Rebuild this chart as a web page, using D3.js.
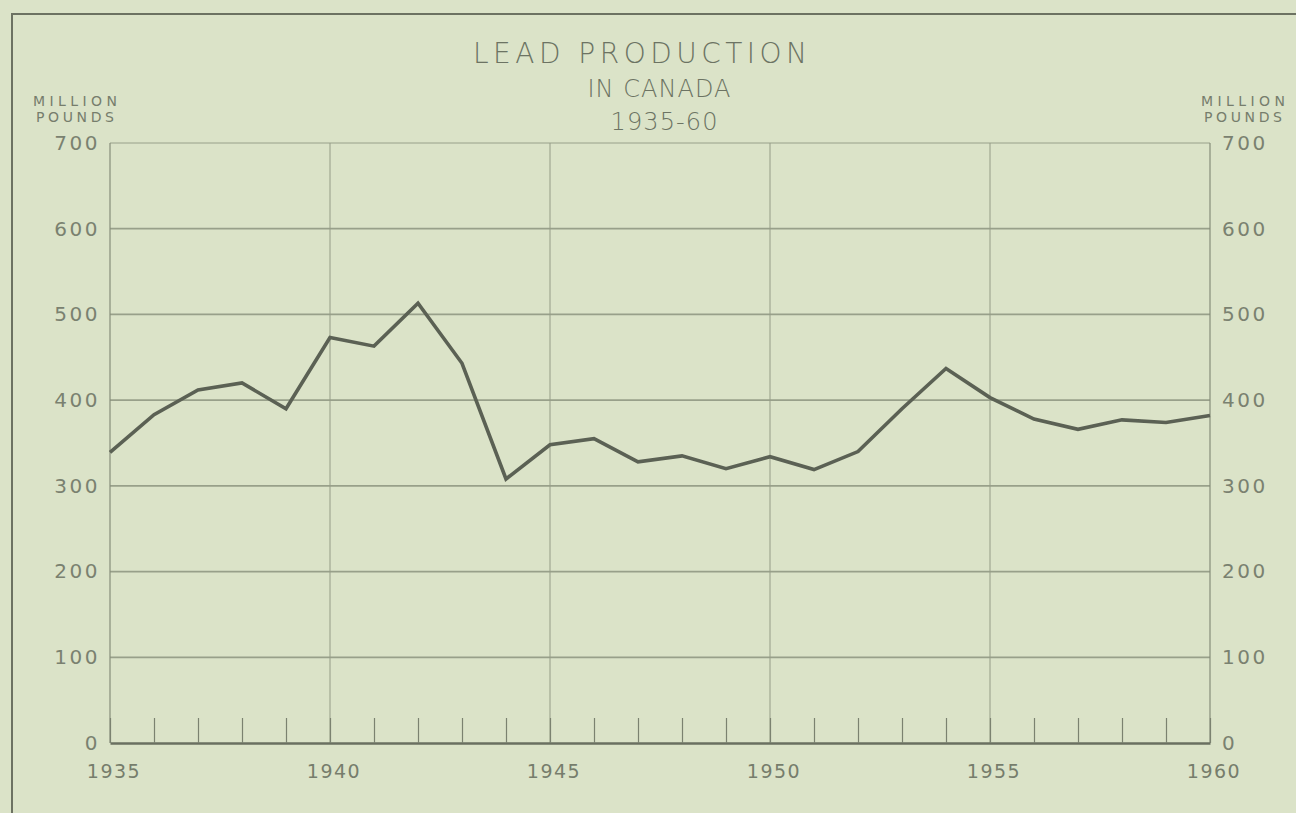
<!DOCTYPE html>
<html>
<head>
<meta charset="utf-8">
<script src="https://cdn.jsdelivr.net/npm/d3@7"></script>
<style>
  html, body { margin: 0; padding: 0; background: #dbe3c8; }
  svg { display: block; }
  text { fill: #767d6c; font-family: "DejaVu Sans", sans-serif; }
</style>
</head>
<body>
<div id="chart"></div>
<script>
// data (million pounds)
const years = d3.range(1935, 1961);
const production = [339, 383, 412, 420, 390, 473, 463, 513, 443, 308,
                    348, 355, 328, 335, 320, 334, 319, 340, 390, 437,
                    403, 378, 366, 377, 374, 382];
const yTicks = [0, 100, 200, 300, 400, 500, 600, 700];
const xLabels = [1935, 1940, 1945, 1950, 1955, 1960];
const titleLines = ["LEAD PRODUCTION", "IN CANADA", "1935-60"];
const unitLines = ["MILLION", "POUNDS"];

const svgWidth = 1296, svgHeight = 813;
const margin = {top: 143, right: 86, bottom: 70, left: 110};
const width = svgWidth - margin.left - margin.right;
const height = svgHeight - margin.top - margin.bottom;

const svg = d3.select("#chart").append("svg")
  .attr("width", svgWidth)
  .attr("height", svgHeight);

// outer frame (top and left edges visible)
svg.append("path")
  .attr("d", "M12,813 L12,14 L1296,14")
  .attr("fill", "none")
  .attr("stroke", "#6c7262")
  .attr("stroke-width", 2);

const chartGroup = svg.append("g")
  .attr("transform", `translate(${margin.left}, ${margin.top})`);

const x = d3.scaleLinear().domain([1935, 1960]).range([0, width]);
const y = d3.scaleLinear().domain([0, 700]).range([height, 0]);

// horizontal grid lines
chartGroup.append("g")
  .selectAll("line")
  .data(yTicks.filter(d => d > 0))
  .join("line")
  .attr("x1", 0).attr("x2", width)
  .attr("y1", d => y(d)).attr("y2", d => y(d))
  .attr("stroke", "#98a08a")
  .attr("stroke-width", d => d === 700 ? 1 : 1.8);

// vertical 5-year grid lines
chartGroup.append("g")
  .selectAll("line")
  .data(xLabels.slice(1, -1))
  .join("line")
  .attr("x1", d => x(d)).attr("x2", d => x(d))
  .attr("y1", 0).attr("y2", height)
  .attr("stroke", "#959c87")
  .attr("stroke-width", 1);

// side axes
[0, width].forEach(px => {
  chartGroup.append("line")
    .attr("x1", px).attr("x2", px)
    .attr("y1", 0).attr("y2", height)
    .attr("stroke", "#868d7a")
    .attr("stroke-width", 1.2);
});

// bottom axis with yearly ticks
const bottomAxis = d3.axisBottom(x)
  .tickValues(years)
  .tickSize(-25)
  .tickSizeOuter(0)
  .tickFormat("");
const xAxis = chartGroup.append("g")
  .attr("transform", `translate(0, ${height})`)
  .call(bottomAxis);
xAxis.select(".domain").attr("stroke", "#6a7061").attr("stroke-width", 2.5);
xAxis.selectAll(".tick line").attr("stroke", "#7b8270").attr("stroke-width", 1.2);

// year labels
chartGroup.append("g")
  .selectAll("text")
  .data(xLabels)
  .join("text")
  .attr("x", d => x(d) + 4)
  .attr("y", height + 35)
  .attr("text-anchor", "middle")
  .style("font-size", "19px")
  .style("letter-spacing", "1.5px")
  .text(d => d);

// left and right value labels
const leftAxis = d3.axisLeft(y).tickValues(yTicks).tickSize(0).tickPadding(10);
const rightAxis = d3.axisRight(y).tickValues(yTicks).tickSize(0).tickPadding(12);
[chartGroup.append("g").call(leftAxis),
 chartGroup.append("g").attr("transform", `translate(${width}, 0)`).call(rightAxis)]
  .forEach(g => {
    g.select(".domain").remove();
    g.selectAll(".tick text")
      .style("font-size", "20px")
      .style("letter-spacing", "2.5px")
      .style("fill", "#7a8170")
      .style("font-family", "DejaVu Sans, sans-serif");
  });

// the production line
const line = d3.line()
  .x((d, i) => x(years[i]))
  .y(d => y(d));

chartGroup.append("path")
  .datum(production)
  .attr("d", line)
  .attr("fill", "none")
  .attr("stroke", "#5b6154")
  .attr("stroke-width", 3.6)
  .attr("stroke-linejoin", "miter");

// titles
const titleSpecs = [
  {x: 640, y: 63, size: 28, len: 334},
  {x: 659, y: 97, size: 24, len: 143},
  {x: 664, y: 130, size: 24, len: 107}
];
titleLines.forEach((t, i) => {
  svg.append("text")
    .attr("x", titleSpecs[i].x)
    .attr("y", titleSpecs[i].y)
    .attr("text-anchor", "middle")
    .attr("textLength", titleSpecs[i].len)
    .attr("lengthAdjust", "spacing")
    .style("font-family", "DejaVu Sans, sans-serif")
    .style("font-weight", 200)
    .style("font-size", titleSpecs[i].size + "px")
    .style("fill", "#6c7363")
    .text(t);
});

// unit labels on both sides
const unitWidths = [84, 78];
[75, 1243].forEach(cx => {
  unitLines.forEach((t, i) => {
    svg.append("text")
      .attr("x", cx)
      .attr("y", 106 + i * 16)
      .attr("text-anchor", "middle")
      .attr("textLength", unitWidths[i])
      .attr("lengthAdjust", "spacing")
      .style("font-size", "14px")
      .text(t);
  });
});
</script>
</body>
</html>
